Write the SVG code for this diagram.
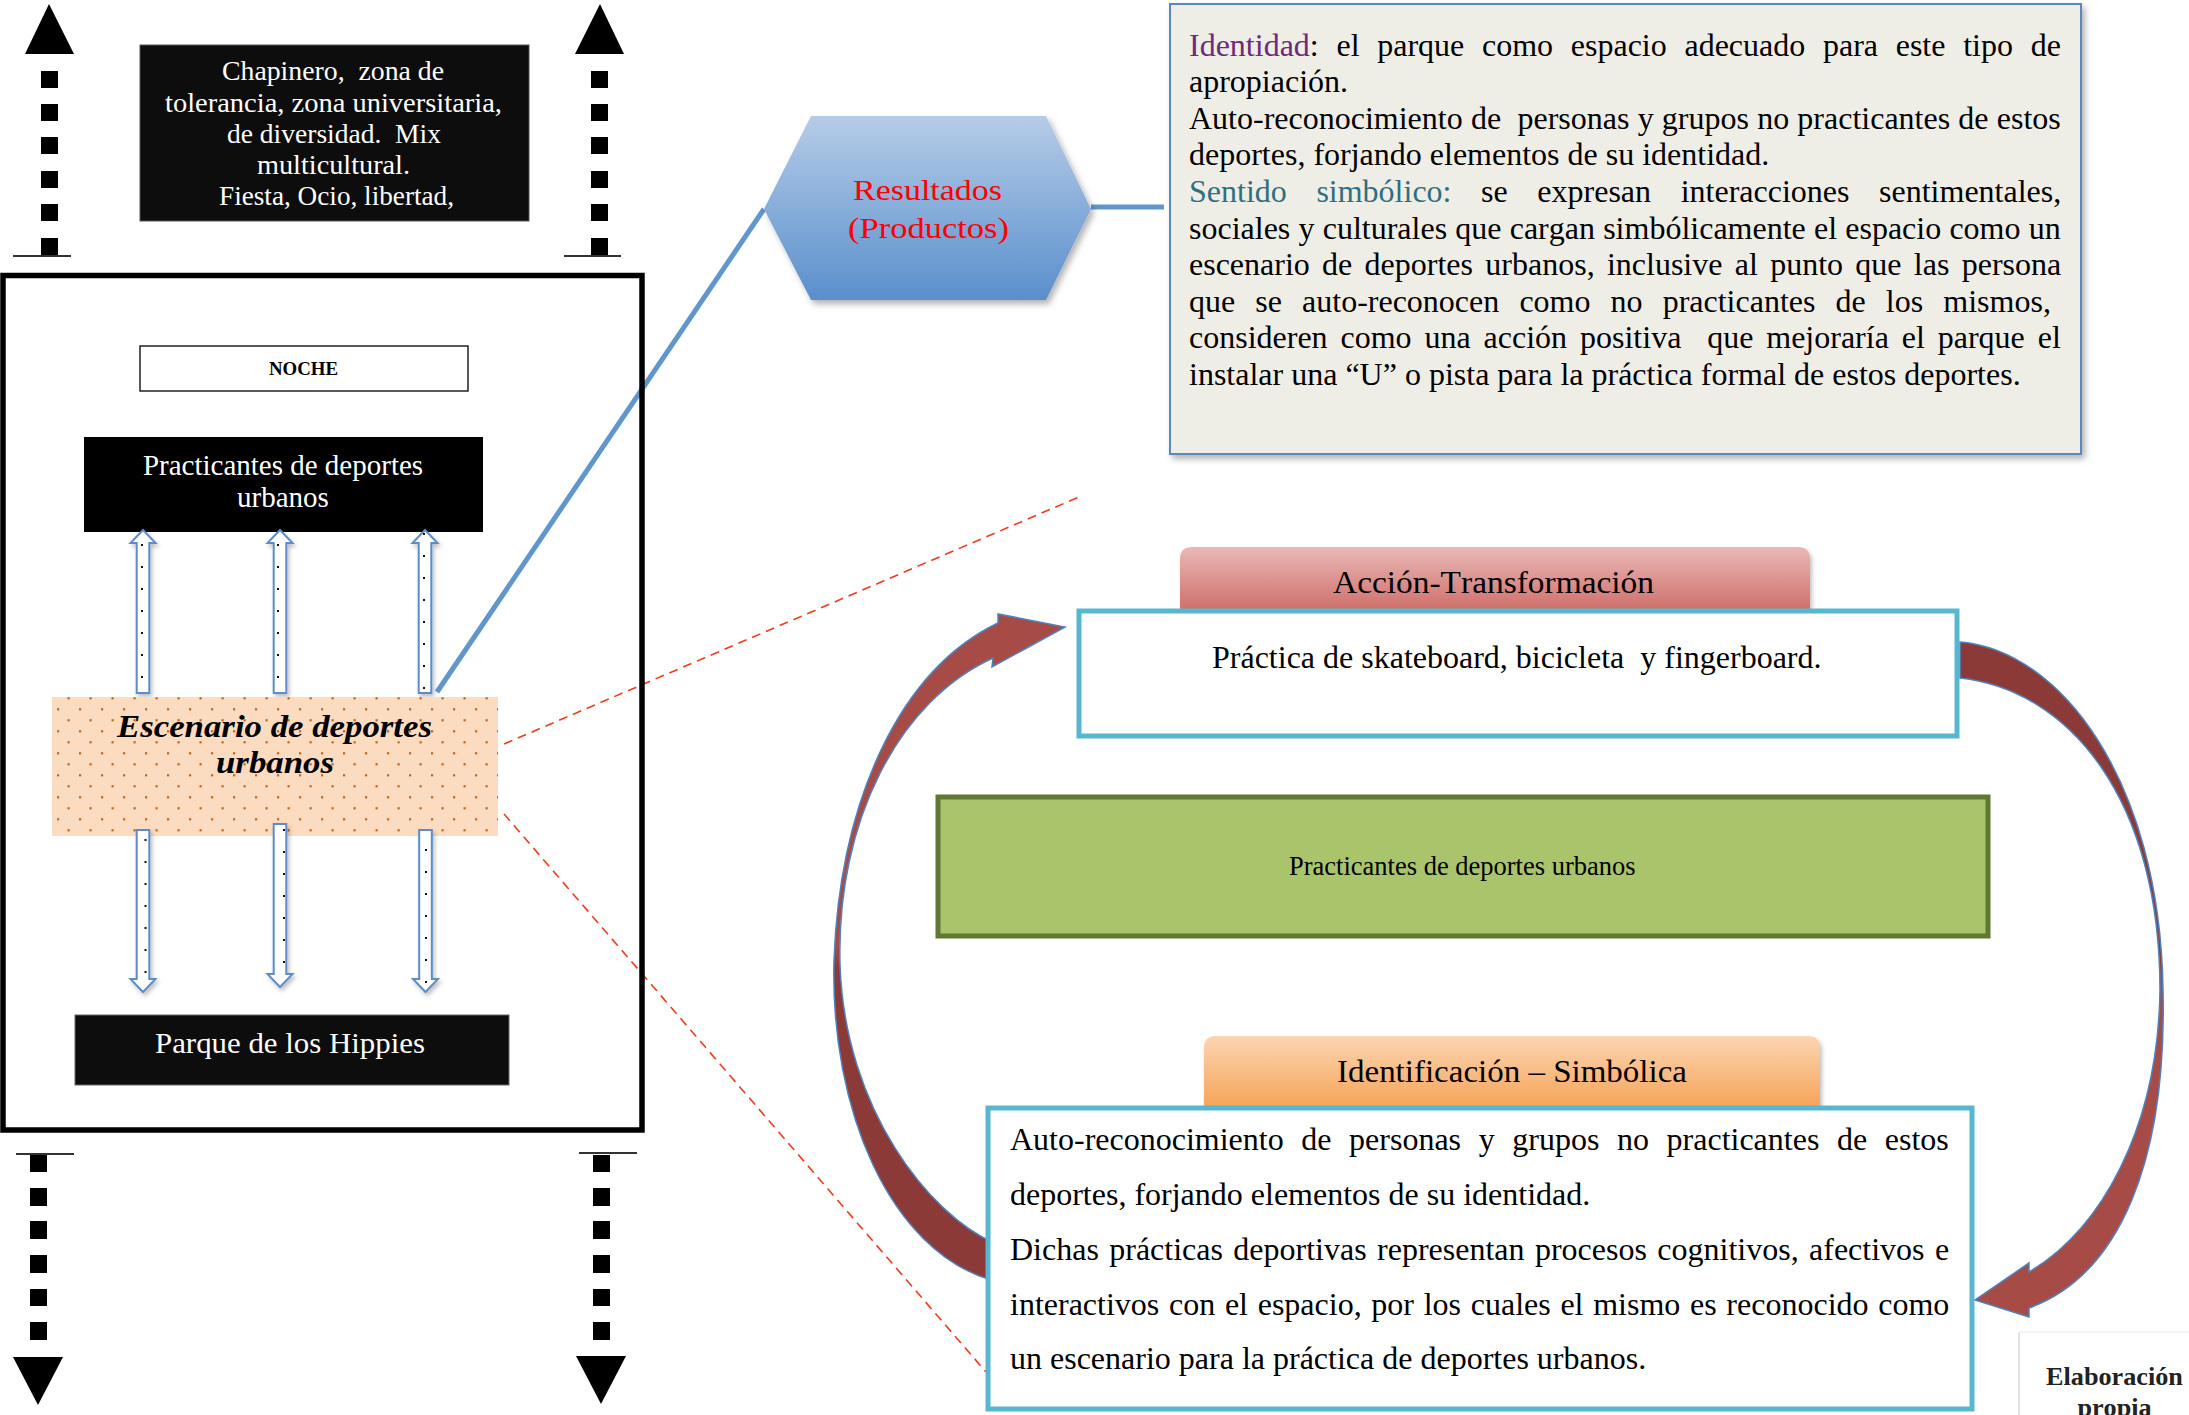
<svg xmlns="http://www.w3.org/2000/svg" width="2189" height="1415" viewBox="0 0 2189 1415">
<defs>
<style>
text{font-family:"Liberation Serif","Times New Roman",serif;font-kerning:none}
.w{fill:#fff}
.k{fill:#000}
.blk{fill:#0D0D0D}
.dash{fill:#000}
.hol{fill:#fff;stroke:#5B8DC8;stroke-width:2}
.dot{fill:#111}
.t32{font-size:32px;fill:#000}
.blue{stroke:#6096CC;stroke-width:5;fill:none}
.red{stroke:#F03A1E;stroke-width:1.6;stroke-dasharray:9 6;fill:none}
.teal{fill:#fff;stroke:#58B7D0;stroke-width:5}
</style>
<linearGradient id="hexG" x1="0" y1="0" x2="0" y2="1"><stop offset="0" stop-color="#B6CCE8"/><stop offset="1" stop-color="#5A8FCB"/></linearGradient>
<linearGradient id="redTab" x1="0" y1="0" x2="0" y2="1"><stop offset="0" stop-color="#E9B9B7"/><stop offset="1" stop-color="#CF6E69"/></linearGradient>
<linearGradient id="orTab" x1="0" y1="0" x2="0" y2="1"><stop offset="0" stop-color="#FCD5B2"/><stop offset="1" stop-color="#F6A357"/></linearGradient>
<linearGradient id="arrL" gradientUnits="userSpaceOnUse" x1="0" y1="610" x2="0" y2="1285"><stop offset="0" stop-color="#A74B47"/><stop offset="0.5" stop-color="#A74B47"/><stop offset="0.53" stop-color="#8B3A37"/><stop offset="1" stop-color="#8B3A37"/></linearGradient>
<linearGradient id="arrR" gradientUnits="userSpaceOnUse" x1="0" y1="640" x2="0" y2="1320"><stop offset="0" stop-color="#8B3A37"/><stop offset="0.47" stop-color="#8B3A37"/><stop offset="0.5" stop-color="#A74B47"/><stop offset="1" stop-color="#A74B47"/></linearGradient>
<pattern id="dots" patternUnits="userSpaceOnUse" x="101" y="697" width="22" height="22"><rect x="10.5" y="0.2" width="2.2" height="2.2" fill="#C0661C"/><rect x="0" y="11.2" width="2.2" height="2.2" fill="#C0661C"/></pattern>
<filter id="sh" x="-10%" y="-10%" width="130%" height="130%"><feDropShadow dx="3" dy="4" stdDeviation="3" flood-color="#000" flood-opacity="0.3"/></filter>
<filter id="sh2" x="-50%" y="-10%" width="200%" height="130%"><feDropShadow dx="2" dy="3" stdDeviation="2" flood-color="#000" flood-opacity="0.25"/></filter>
</defs>
<rect width="2189" height="1415" fill="#fff"/>

<g id="connectors">
<line class="blue" x1="764" y1="209" x2="437" y2="692"/>
<line class="blue" x1="1091" y1="207" x2="1164" y2="207"/>
<line class="red" x1="504" y1="744" x2="1079" y2="497"/>
<line class="red" x1="504" y1="814" x2="986" y2="1372"/>
<path id="arrow-left" fill="url(#arrL)" stroke="#4F81BD" stroke-width="1.5" d="M998,623 C900,670 840,800 834,960 C830,1110 890,1250 991,1280 L994,1243 C930,1215 845,1110 840,965 C836,820 900,700 993,658 L992,667 L1065,627 L998,614 Z"/>
<path id="arrow-right" fill="url(#arrR)" stroke="#4F81BD" stroke-width="1.5" d="M1960,642 C2060,650 2160,780 2163,990 C2167,1160 2120,1275 2029,1308 L2029,1317 L1975,1300 L2029,1263 L2029,1272 C2100,1230 2158,1130 2160,990 C2160,800 2070,690 1960,678 Z"/>
</g>

<g id="arrows-top">
<polygon class="k" points="49,4 74,54 25,54"/>
<rect class="dash" x="41" y="71" width="17" height="17"/><rect class="dash" x="41" y="104" width="17" height="17"/><rect class="dash" x="41" y="137" width="17" height="17"/><rect class="dash" x="41" y="171" width="17" height="17"/><rect class="dash" x="41" y="204" width="17" height="17"/><rect class="dash" x="41" y="238" width="17" height="17"/>
<line x1="13" y1="256" x2="71" y2="256" stroke="#333" stroke-width="2"/>
<polygon class="k" points="600,4 624,54 575,54"/>
<rect class="dash" x="591" y="71" width="17" height="17"/><rect class="dash" x="591" y="104" width="17" height="17"/><rect class="dash" x="591" y="137" width="17" height="17"/><rect class="dash" x="591" y="171" width="17" height="17"/><rect class="dash" x="591" y="204" width="17" height="17"/><rect class="dash" x="591" y="238" width="17" height="17"/>
<line x1="564" y1="256" x2="621" y2="256" stroke="#333" stroke-width="2"/>
</g>

<g id="arrows-bottom">
<line x1="16" y1="1154" x2="74" y2="1154" stroke="#333" stroke-width="2"/>
<rect class="dash" x="30" y="1155" width="17" height="17"/><rect class="dash" x="30" y="1188" width="17" height="18"/><rect class="dash" x="30" y="1221" width="17" height="18"/><rect class="dash" x="30" y="1255" width="17" height="18"/><rect class="dash" x="30" y="1289" width="17" height="17"/><rect class="dash" x="30" y="1322" width="17" height="18"/>
<polygon class="k" points="13,1357 63,1357 38,1405"/>
<line x1="579" y1="1153" x2="637" y2="1153" stroke="#333" stroke-width="2"/>
<rect class="dash" x="593" y="1155" width="17" height="17"/><rect class="dash" x="593" y="1188" width="17" height="18"/><rect class="dash" x="593" y="1221" width="17" height="18"/><rect class="dash" x="593" y="1255" width="17" height="18"/><rect class="dash" x="593" y="1289" width="17" height="17"/><rect class="dash" x="593" y="1322" width="17" height="18"/>
<polygon class="k" points="576,1356 626,1356 601,1404"/>
</g>

<g id="contexto">
<rect class="blk" x="140" y="45" width="389" height="176" stroke="#555" stroke-width="1"/>
<text class="w" font-size="26.5" xml:space="preserve" x="222" y="80" textLength="222" lengthAdjust="spacingAndGlyphs">Chapinero,  zona de</text>
<text class="w" font-size="26.5" x="165" y="112" textLength="337" lengthAdjust="spacingAndGlyphs">tolerancia, zona universitaria,</text>
<text class="w" font-size="26.5" xml:space="preserve" x="227" y="143" textLength="214" lengthAdjust="spacingAndGlyphs">de diversidad.  Mix</text>
<text class="w" font-size="26.5" x="257" y="174" textLength="153" lengthAdjust="spacingAndGlyphs">multicultural.</text>
<text class="w" font-size="26.5" x="219" y="205" textLength="235" lengthAdjust="spacingAndGlyphs">Fiesta, Ocio, libertad,</text>
</g>

<g id="marco">
<rect x="3" y="275.5" width="639" height="854.5" fill="none" stroke="#000" stroke-width="5.5"/>
</g>

<g id="noche">
<rect x="140" y="346" width="328" height="45" fill="#fff" stroke="#222" stroke-width="1.5"/>
<text x="269" y="375" font-size="19" font-weight="bold" textLength="69" lengthAdjust="spacingAndGlyphs">NOCHE</text>
</g>

<g id="practicantes">
<rect class="k" x="84" y="437" width="399" height="95"/>
<text class="w" font-size="29" text-anchor="middle" x="283" y="475">Practicantes de deportes</text>
<text class="w" font-size="29" text-anchor="middle" x="283" y="507">urbanos</text>
</g>

<g id="flechas-arriba" filter="url(#sh2)">
<polygon class="hol" points="143,530 155.5,543 149.3,543 149.3,693 136.7,693 136.7,543 130.5,543"/>
<polygon class="hol" points="280,530 292.5,543 286.3,543 286.3,693 273.7,693 273.7,543 267.5,543"/>
<polygon class="hol" points="425,530 437.5,543 431.3,543 431.3,693 418.7,693 418.7,543 412.5,543"/>
</g>
<g id="puntos-arriba">
<rect class="dot" x="141" y="544" width="2" height="2"/><rect class="dot" x="141" y="566" width="2" height="2"/><rect class="dot" x="141" y="588" width="2" height="2"/><rect class="dot" x="141" y="610" width="2" height="2"/><rect class="dot" x="141" y="632" width="2" height="2"/><rect class="dot" x="141" y="654" width="2" height="2"/><rect class="dot" x="141" y="676" width="2" height="2"/>
<rect class="dot" x="277" y="544" width="2" height="2"/><rect class="dot" x="277" y="566" width="2" height="2"/><rect class="dot" x="277" y="588" width="2" height="2"/><rect class="dot" x="277" y="610" width="2" height="2"/><rect class="dot" x="277" y="632" width="2" height="2"/><rect class="dot" x="277" y="654" width="2" height="2"/><rect class="dot" x="277" y="676" width="2" height="2"/>
<rect class="dot" x="423" y="533" width="2" height="2"/><rect class="dot" x="423" y="555" width="2" height="2"/><rect class="dot" x="423" y="577" width="2" height="2"/><rect class="dot" x="423" y="599" width="2" height="2"/><rect class="dot" x="423" y="621" width="2" height="2"/><rect class="dot" x="423" y="643" width="2" height="2"/><rect class="dot" x="423" y="665" width="2" height="2"/><rect class="dot" x="423" y="687" width="2" height="2"/>
</g>

<g id="escenario">
<rect x="52" y="697" width="446" height="139" fill="#FCDCC1"/>
<rect x="52" y="697" width="446" height="139" fill="url(#dots)"/>
<text x="117" y="737" font-size="31" font-weight="bold" font-style="italic" textLength="315" lengthAdjust="spacingAndGlyphs">Escenario de deportes</text>
<text x="216" y="773" font-size="31" font-weight="bold" font-style="italic" textLength="118" lengthAdjust="spacingAndGlyphs">urbanos</text>
</g>

<g id="flechas-abajo" filter="url(#sh2)">
<polygon class="hol" points="136.7,830 149.3,830 149.3,979 155.5,979 143,992 130.5,979 136.7,979"/>
<polygon class="hol" points="273.7,824 286.3,824 286.3,974 292.5,974 280,987 267.5,974 273.7,974"/>
<polygon class="hol" points="419.2,830 431.8,830 431.8,979 438,979 425.5,992 413,979 419.2,979"/>
</g>
<g id="puntos-abajo">
<rect class="dot" x="144.5" y="839" width="2" height="2"/><rect class="dot" x="144.5" y="861" width="2" height="2"/><rect class="dot" x="144.5" y="883" width="2" height="2"/><rect class="dot" x="144.5" y="905" width="2" height="2"/><rect class="dot" x="144.5" y="927" width="2" height="2"/><rect class="dot" x="144.5" y="949" width="2" height="2"/><rect class="dot" x="144.5" y="971" width="2" height="2"/>
<rect class="dot" x="283" y="829" width="2" height="2"/><rect class="dot" x="283" y="851" width="2" height="2"/><rect class="dot" x="283" y="873" width="2" height="2"/><rect class="dot" x="283" y="895" width="2" height="2"/><rect class="dot" x="283" y="917" width="2" height="2"/><rect class="dot" x="283" y="939" width="2" height="2"/><rect class="dot" x="283" y="961" width="2" height="2"/>
<rect class="dot" x="425" y="849" width="2" height="2"/><rect class="dot" x="425" y="871" width="2" height="2"/><rect class="dot" x="425" y="893" width="2" height="2"/><rect class="dot" x="425" y="915" width="2" height="2"/><rect class="dot" x="425" y="937" width="2" height="2"/><rect class="dot" x="425" y="959" width="2" height="2"/><rect class="dot" x="425" y="981" width="2" height="2"/>
</g>

<g id="parque">
<rect class="blk" x="75" y="1015" width="434" height="70" stroke="#666" stroke-width="1"/>
<text class="w" x="155" y="1053" font-size="29" textLength="270" lengthAdjust="spacingAndGlyphs">Parque de los Hippies</text>
</g>

<g id="resultados">
<polygon points="764,209 811,116 1046,116 1091,209 1046,300 811,300" fill="url(#hexG)" filter="url(#sh)"/>
<text x="853" y="200" font-size="30" fill="#FF0000" textLength="149" lengthAdjust="spacingAndGlyphs">Resultados</text>
<text x="848" y="238" font-size="30" fill="#FF0000" textLength="161" lengthAdjust="spacingAndGlyphs">(Productos)</text>
</g>

<g id="identidad-texto">
<rect x="1170" y="4" width="911" height="450" fill="#EFEEE6" stroke="#5A88C0" stroke-width="2" filter="url(#sh)"/>
<text class="t32" x="1189" y="55.5" word-spacing="9.7"><tspan fill="#702A7A">Identidad</tspan>: el parque como espacio adecuado para este tipo de</text>
<text class="t32" x="1189" y="92">apropiación.</text>
<text class="t32" x="1189" y="128.7" xml:space="preserve" word-spacing="0.2">Auto-reconocimiento de  personas y grupos no practicantes de estos</text>
<text class="t32" x="1189" y="165.3">deportes, forjando elementos de su identidad.</text>
<text class="t32" x="1189" y="202" word-spacing="21.6"><tspan fill="#2E7080">Sentido simbólico:</tspan> se expresan interacciones sentimentales,</text>
<text class="t32" x="1189" y="238.5" word-spacing="0.2">sociales y culturales que cargan simbólicamente el espacio como un</text>
<text class="t32" x="1189" y="275.1" word-spacing="4.3">escenario de deportes urbanos, inclusive al punto que las persona</text>
<text class="t32" x="1189" y="311.7" word-spacing="12.1">que se auto-reconocen como no practicantes de los mismos,</text>
<text class="t32" x="1189" y="348.3" xml:space="preserve" word-spacing="4.9">consideren como una acción positiva  que mejoraría el parque el</text>
<text class="t32" x="1189" y="385">instalar una “U” o pista para la práctica formal de estos deportes.</text>
</g>

<g id="accion-transformacion">
<path d="M1180,611 V559 Q1180,547 1192,547 H1798 Q1810,547 1810,559 V611 Z" fill="url(#redTab)" filter="url(#sh2)"/>
<text x="1333" y="593" font-size="31" textLength="321" lengthAdjust="spacingAndGlyphs">Acción-Transformación</text>
</g>

<g id="practica">
<rect class="teal" x="1079" y="611" width="878" height="125"/>
<text class="t32" x="1212" y="668" xml:space="preserve">Práctica de skateboard, bicicleta  y fingerboard.</text>
</g>

<g id="practicantes-verde">
<rect x="938" y="797" width="1050" height="139" fill="#A9C46B" stroke="#5F7832" stroke-width="5"/>
<text x="1289" y="875" font-size="26.5">Practicantes de deportes urbanos</text>
</g>

<g id="identificacion-simbolica">
<path d="M1204,1108 V1048 Q1204,1036 1216,1036 H1808 Q1820,1036 1820,1048 V1108 Z" fill="url(#orTab)" filter="url(#sh2)"/>
<text x="1337" y="1082" font-size="31" textLength="350" lengthAdjust="spacingAndGlyphs">Identificación – Simbólica</text>
</g>

<g id="identificacion-texto">
<rect class="teal" x="988" y="1108" width="984" height="301"/>
<text class="t32" x="1010" y="1150" word-spacing="9.6">Auto-reconocimiento de personas y grupos no practicantes de estos</text>
<text class="t32" x="1010" y="1205">deportes, forjando elementos de su identidad.</text>
<text class="t32" x="1010" y="1260" word-spacing="2.4">Dichas prácticas deportivas representan procesos cognitivos, afectivos e</text>
<text class="t32" x="1010" y="1315" word-spacing="1.7">interactivos con el espacio, por los cuales el mismo es reconocido como</text>
<text class="t32" x="1010" y="1369">un escenario para la práctica de deportes urbanos.</text>
</g>

<g id="elaboracion">
<line x1="2019" y1="1332" x2="2019" y2="1415" stroke="#E2E2E2" stroke-width="2"/>
<line x1="2019" y1="1332" x2="2189" y2="1332" stroke="#F4F4F4" stroke-width="2"/>
<text x="2114.5" y="1385" font-size="26.2" font-weight="bold" text-anchor="middle" fill="#222">Elaboración</text>
<text x="2114.5" y="1416" font-size="26.2" font-weight="bold" text-anchor="middle" fill="#222">propia</text>
</g>
</svg>
